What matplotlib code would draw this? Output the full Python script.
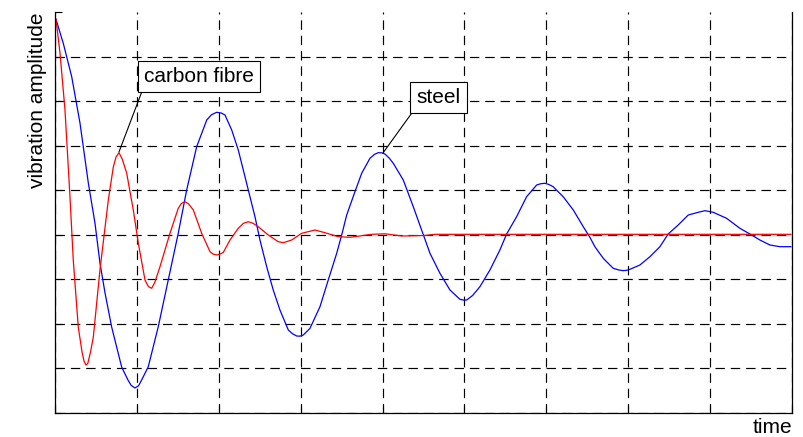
import matplotlib
matplotlib.use("Agg")
import matplotlib.pyplot as plt
import numpy as np

plt.rcParams['font.family'] = ['Liberation Sans', 'DejaVu Sans']

# steel response (time in grid divisions, amplitude in grid divisions)
steel_t = [0.012, 0.101, 0.204, 0.305, 0.407, 0.488, 0.549, 0.611, 0.692, 0.814, 0.891, 0.930,
           0.977, 1.020, 1.058, 1.139, 1.261, 1.383, 1.505, 1.608, 1.730, 1.853, 1.910, 1.974,
           2.030, 2.076, 2.158, 2.238, 2.320, 2.381, 2.442, 2.503, 2.585, 2.665, 2.747, 2.849,
           2.900, 2.951, 2.990, 3.032, 3.114, 3.236, 3.337, 3.440, 3.501, 3.562, 3.663, 3.745,
           3.846, 3.900, 3.947, 3.990, 4.029, 4.080, 4.131, 4.253, 4.375, 4.477, 4.579, 4.701,
           4.823, 4.945, 4.990, 5.027, 5.100, 5.189, 5.311, 5.433, 5.515, 5.637, 5.759, 5.882,
           5.930, 5.983, 6.030, 6.084, 6.206, 6.329, 6.451, 6.532, 6.593, 6.695, 6.817, 6.880,
           6.939, 6.980, 7.021, 7.143, 7.265, 7.387, 7.488, 7.610, 7.733, 7.855, 7.937, 8.038,
           8.201, 8.364, 8.486, 8.608, 8.730, 8.852, 8.987]
steel_a = [4.836, 4.297, 3.546, 2.506, 1.157, 0.258, -0.640, -1.315, -2.079, -2.978, -3.270, -3.390,
           -3.449, -3.400, -3.270, -2.971, -2.072, -1.022, 0.027, 1.000, 1.973, 2.573, 2.690, 2.746,
           2.730, 2.685, 2.348, 1.899, 1.299, 0.849, 0.400, -0.124, -0.724, -1.247, -1.697, -2.146,
           -2.230, -2.281, -2.285, -2.258, -2.108, -1.622, -1.022, -0.422, -0.011, 0.438, 0.962, 1.375,
           1.712, 1.800, 1.838, 1.835, 1.809, 1.720, 1.600, 1.225, 0.625, 0.101, -0.422, -0.872,
           -1.247, -1.456, -1.475, -1.472, -1.370, -1.173, -0.798, -0.348, 0.011, 0.400, 0.849, 1.112,
           1.140, 1.151, 1.125, 1.074, 0.849, 0.551, 0.175, -0.063, -0.274, -0.535, -0.760, -0.795,
           -0.813, -0.805, -0.782, -0.685, -0.499, -0.274, 0.011, 0.213, 0.438, 0.499, 0.535, 0.499,
           0.364, 0.139, 0.011, -0.124, -0.236, -0.274, -0.274]

# carbon fibre response
carbon_t = [0.012, 0.061, 0.122, 0.183, 0.223, 0.284, 0.330, 0.355, 0.379, 0.400, 0.435, 0.468,
            0.549, 0.651, 0.712, 0.745, 0.781, 0.820, 0.875, 0.956, 1.017, 1.099, 1.140, 1.181,
            1.220, 1.282, 1.404, 1.505, 1.545, 1.587, 1.630, 1.689, 1.791, 1.893, 1.930, 1.974,
            2.015, 2.055, 2.137, 2.238, 2.300, 2.360, 2.420, 2.482, 2.604, 2.726, 2.788, 2.890,
            3.012, 3.175, 3.297, 3.459, 3.602, 3.867, 4.029, 4.237, 4.518, 4.640, 8.987]
carbon_a = [4.843, 4.079, 2.798, 0.843, -0.573, -2.079, -2.640, -2.850, -2.933, -2.900, -2.630, -2.303,
            -0.798, 0.775, 1.517, 1.740, 1.838, 1.700, 1.382, 0.551, -0.191, -1.022, -1.170, -1.209,
            -1.070, -0.724, 0.027, 0.589, 0.700, 0.737, 0.690, 0.551, 0.027, -0.387, -0.440, -0.461,
            -0.440, -0.404, -0.124, 0.139, 0.250, 0.288, 0.250, 0.175, -0.011, -0.162, -0.184, -0.124,
            0.027, 0.101, 0.040, -0.049, -0.063, 0.004, 0.016, -0.034, -0.022, 0.004, 0.004]

fig = plt.figure(figsize=(8.04, 4.37), dpi=100)
ax = fig.add_axes([55 / 804, 1 - 412.5 / 437, 737 / 804, 400.5 / 437])

ax.plot(steel_t, steel_a, color='#0000ff', lw=0.9)
ax.plot(carbon_t, carbon_a, color='#ff0000', lw=0.9)

ax.set_xlim(0, 9)
ax.set_ylim(-4, 5)
ax.set_xticks(np.arange(0, 10))
ax.set_yticks(np.arange(-4, 6))
ax.tick_params(direction='in', length=5, width=0.8, labelbottom=False, labelleft=False)
ax.grid(True, color='black', lw=0.85, linestyle=(0, (8, 5)))
ax.yaxis.get_gridlines()[-1].set_visible(False)
ax.spines['top'].set_visible(False)
for s in ['left', 'bottom', 'right']:
    ax.spines[s].set_linewidth(0.9)

ax.set_ylabel('vibration amplitude', fontsize=15, loc='top', labelpad=6)
ax.set_xlabel('time', fontsize=15, loc='right', labelpad=4)

box = dict(boxstyle='square,pad=0.3', fc='white', ec='black', lw=0.8)
ax.annotate('carbon fibre', xy=(0.781, 1.854), xytext=(1.758, 3.551), fontsize=15,
            ha='center', va='center', bbox=box,
            arrowprops=dict(arrowstyle='-', color='black', lw=0.8, relpos=(0, 0),
                            shrinkA=0, shrinkB=0))
ax.annotate('steel', xy=(4.005, 1.831), xytext=(4.680, 3.079), fontsize=15,
            ha='center', va='center', bbox=box,
            arrowprops=dict(arrowstyle='-', color='black', lw=0.8, relpos=(0, 0),
                            shrinkA=0, shrinkB=0))

plt.savefig('out.png', dpi=100)
